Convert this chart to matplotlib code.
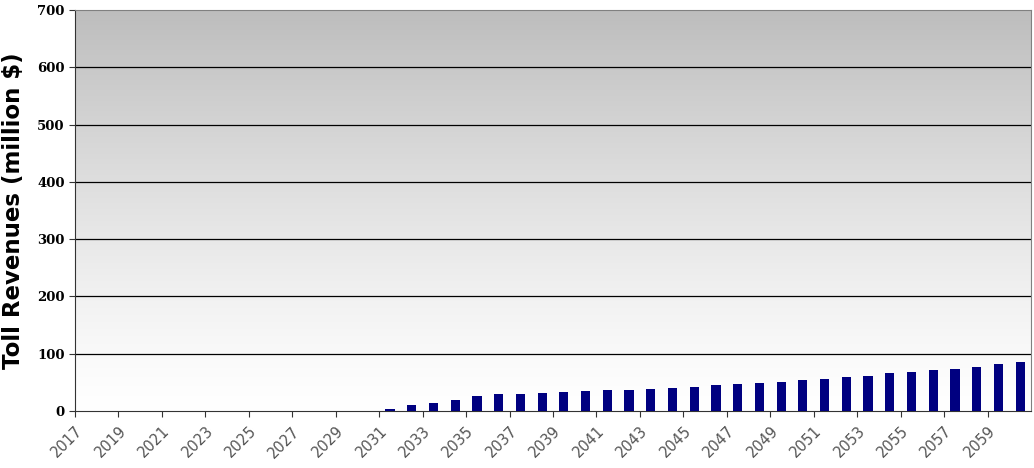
import numpy as np
import matplotlib
matplotlib.use("Agg")
import matplotlib.pyplot as plt

# years on the category axis
years = list(range(2017, 2061))
# toll revenues in million $ (zero before 2031)
revenues = [0]*14 + [4, 10.5, 14, 18.6, 25.6, 29, 29, 30.8, 32.6, 34.3, 36, 36,
                     37.8, 39.5, 42.5, 46, 47.7, 49.5, 51, 54, 56, 59, 61, 65.7,
                     67.5, 71, 74, 77.4, 82.6, 86]
yticks = [0, 100, 200, 300, 400, 500, 600, 700]

fig = plt.figure(figsize=(10.34, 4.68), dpi=100)
ax = fig.add_axes([75/1034, 57/468, 956/1034, 401/468])

# grey-to-white background gradient
grad = np.linspace(1.0, 0.0, 256).reshape(-1, 1) ** 1.25
top = np.array([189, 189, 189]) / 255
bot = np.array([255, 255, 255]) / 255
img = bot + (top - bot) * grad[..., None]
ax.imshow(img, extent=[0, 1, 0, 1], transform=ax.transAxes, aspect='auto', zorder=0)

x = np.arange(len(years))
ax.bar(x, revenues, width=0.42, color='#000080', zorder=3)

ax.set_xlim(-0.5, len(years) - 0.5)
ax.set_ylim(0, 700)
ax.set_yticks(yticks)
ax.set_yticklabels([str(v) for v in yticks], fontweight='bold', fontsize=9.5,
                   family='DejaVu Serif')
for v in yticks[1:-1]:
    ax.axhline(v, color='black', lw=0.9, zorder=2)

# tick marks at category boundaries, labels every 2nd year
ax.set_xticks(np.arange(0, len(years), 2) - 0.5)
ax.set_xticklabels([str(y) for y in years[::2]], rotation=45, ha='right',
                   va='top', rotation_mode='anchor', color='#555555', fontsize=10.5)
ax.tick_params(axis='x', length=4, color='#333333', pad=5)
ax.tick_params(axis='y', length=4, color='#333333')

ax.set_ylabel('Toll Revenues (million $)', fontsize=16.5, fontweight='heavy',
              labelpad=9)

for side in ['top', 'right']:
    ax.spines[side].set_color('#808080')
for side in ['left', 'bottom']:
    ax.spines[side].set_color('#333333')

fig.savefig('out.png', dpi=100)
